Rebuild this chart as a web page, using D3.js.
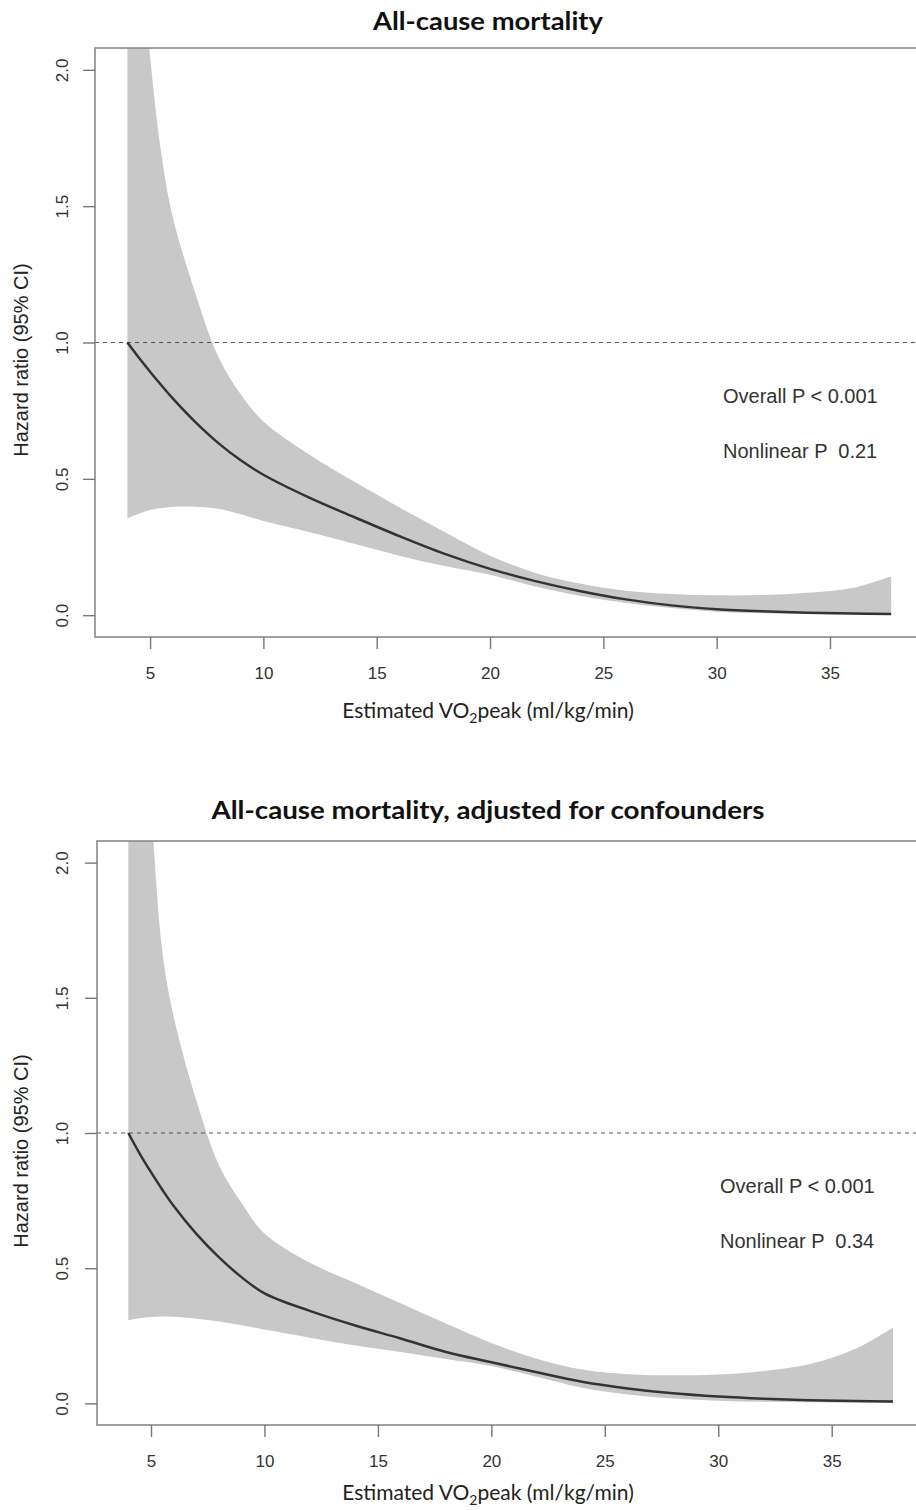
<!DOCTYPE html>
<html>
<head>
<meta charset="utf-8">
<script src="https://cdn.jsdelivr.net/npm/d3@7"></script>
<style>
  body { margin: 0; background: #fff; }
  text { font-family: "Liberation Sans", Arial, sans-serif; }
</style>
</head>
<body>
<script>
var vo2 = [4, 4.5, 5, 5.5, 6, 7, 8, 9, 10, 12, 14, 16, 18, 20, 22, 24, 26, 28, 30, 32, 34, 36, 37.7];

// top panel: crude hazard ratio with 95% CI
var hr1 = [1.0, 0.945, 0.893, 0.843, 0.795, 0.708, 0.632, 0.568, 0.515, 0.432, 0.36, 0.29, 0.225, 0.17, 0.125, 0.088, 0.058, 0.036, 0.022, 0.014, 0.009, 0.006, 0.004];
var lo1 = [0.355, 0.372, 0.386, 0.393, 0.397, 0.398, 0.39, 0.37, 0.345, 0.305, 0.262, 0.218, 0.18, 0.148, 0.105, 0.07, 0.045, 0.026, 0.013, 0.007, 0.004, 0.003, 0.002];
var hi1 = [3.2, 2.55, 2.05, 1.69, 1.46, 1.18, 0.95, 0.81, 0.71, 0.59, 0.49, 0.395, 0.305, 0.218, 0.155, 0.115, 0.09, 0.078, 0.073, 0.074, 0.082, 0.10, 0.143];

// bottom panel: adjusted for confounders
var hr2 = [1.0, 0.924, 0.855, 0.79, 0.73, 0.627, 0.54, 0.466, 0.407, 0.342, 0.288, 0.24, 0.19, 0.152, 0.115, 0.08, 0.055, 0.037, 0.025, 0.017, 0.012, 0.009, 0.007];
var lo2 = [0.308, 0.315, 0.319, 0.321, 0.32, 0.313, 0.303, 0.289, 0.273, 0.243, 0.214, 0.19, 0.164, 0.138, 0.098, 0.058, 0.033, 0.018, 0.01, 0.006, 0.004, 0.003, 0.002];
var hi2 = [3.5, 2.7, 2.2, 1.67, 1.43, 1.12, 0.88, 0.74, 0.628, 0.52, 0.445, 0.37, 0.295, 0.223, 0.165, 0.125, 0.108, 0.104, 0.107, 0.12, 0.145, 0.2, 0.28];

var xTicks = [5, 10, 15, 20, 25, 30, 35];
var yTicks = [0, 0.5, 1, 1.5, 2];
var titles = ["All-cause mortality", "All-cause mortality, adjusted for confounders"];
var overallP = ["Overall P < 0.001", "Overall P < 0.001"];
var nonlinP = ["Nonlinear P  0.21", "Nonlinear P  0.34"];

var W = 916, H = 1510;

var svg = d3.select("body").append("svg")
    .attr("width", W)
    .attr("height", H);

// layout of each panel (pixels)
var panels = [
  {hr: hr1, lo: lo1, hi: hi1, left: 95, right: 922, top: 48, bottom: 637, xdom: [2.57, 39.06],
   titleY: 30, titleW: 230, ylabY: 360, tickY: 679, xlabY: 718, annX: 723, annY: [403, 458]},
  {hr: hr2, lo: lo2, hi: hi2, left: 97, right: 922, top: 841, bottom: 1425, xdom: [2.62, 38.98],
   titleY: 819, titleW: 553, ylabY: 1151, tickY: 1467, xlabY: 1500, annX: 720, annY: [1193, 1248]}
];

panels.forEach(function(p, i) {
  var x = d3.scaleLinear().domain(p.xdom).range([p.left, p.right]);
  var y = d3.scaleLinear().domain([-0.08, 2.08]).range([p.bottom, p.top]);

  var g = svg.append("g");

  var clipId = "clip" + i;
  svg.append("clipPath").attr("id", clipId)
    .append("rect")
      .attr("x", p.left).attr("y", p.top)
      .attr("width", p.right - p.left).attr("height", p.bottom - p.top);

  var rows = vo2.map(function(v, k) { return {x: v, hr: p.hr[k], lo: p.lo[k], hi: p.hi[k]}; });

  // confidence band
  var area = d3.area()
      .curve(d3.curveCatmullRom.alpha(0.5))
      .x(function(d) { return x(d.x); })
      .y0(function(d) { return y(d.lo); })
      .y1(function(d) { return y(d.hi); });

  g.append("path")
      .datum(rows)
      .attr("clip-path", "url(#" + clipId + ")")
      .attr("d", area)
      .style("fill", "#c8c8c8");

  // reference line at HR = 1
  g.append("line")
      .attr("x1", p.left).attr("x2", p.right)
      .attr("y1", y(1)).attr("y2", y(1))
      .style("stroke", "#555")
      .style("stroke-width", 1.2)
      .style("stroke-dasharray", "4,4");

  // hazard ratio curve
  var line = d3.line()
      .curve(d3.curveCatmullRom.alpha(0.5))
      .x(function(d) { return x(d.x); })
      .y(function(d) { return y(d.hr); });

  g.append("path")
      .datum(rows)
      .attr("d", line)
      .style("fill", "none")
      .style("stroke", "#333")
      .style("stroke-width", 2.5);

  // box round the plot region
  g.append("rect")
      .attr("x", p.left).attr("y", p.top)
      .attr("width", p.right - p.left).attr("height", p.bottom - p.top)
      .style("fill", "none")
      .style("stroke", "#8a8a8a")
      .style("stroke-width", 1.6);

  // x axis
  var xAxis = g.append("g")
      .attr("transform", "translate(0," + p.bottom + ")")
      .call(d3.axisBottom(x).tickValues(xTicks).tickSize(12));
  xAxis.select(".domain").remove();
  xAxis.selectAll(".tick line").style("stroke", "#777").style("stroke-width", 1.4);
  xAxis.selectAll(".tick text")
      .attr("y", p.tickY - p.bottom).attr("dy", null)
      .style("font-family", "'Liberation Sans', Arial, sans-serif")
      .style("font-size", "17px")
      .style("fill", "#333");

  // y axis, labels written vertically like R's default
  var yAxis = g.append("g")
      .attr("transform", "translate(" + p.left + ",0)")
      .call(d3.axisLeft(y).tickValues(yTicks).tickSize(12).tickFormat(d3.format(".1f")));
  yAxis.select(".domain").remove();
  yAxis.selectAll(".tick line").style("stroke", "#777").style("stroke-width", 1.4);
  yAxis.selectAll(".tick text")
      .attr("x", null)
      .attr("text-anchor", "middle")
      .attr("transform", "translate(" + (62 - p.left) + ",0) rotate(-90)")
      .attr("dy", "0.35em")
      .style("font-family", "'Liberation Sans', Arial, sans-serif")
      .style("font-size", "17px")
      .style("fill", "#333");

  // titles and labels
  svg.append("text")
      .attr("x", 488).attr("y", p.titleY)
      .attr("text-anchor", "middle")
      .attr("textLength", p.titleW)
      .attr("lengthAdjust", "spacingAndGlyphs")
      .style("font-family", "Lato, 'Open Sans', sans-serif")
      .style("font-weight", "bold")
      .style("font-size", "25px")
      .style("fill", "#111")
      .text(titles[i]);

  var xl = svg.append("text")
      .attr("x", 488).attr("y", p.xlabY)
      .attr("text-anchor", "middle")
      .style("font-family", "Lato, 'Open Sans', sans-serif")
      .style("font-size", "21px")
      .style("fill", "#222");
  xl.append("tspan").text("Estimated VO");
  xl.append("tspan").attr("dy", 5).style("font-size", "14px").text("2");
  xl.append("tspan").attr("dy", -5).text("peak (ml/kg/min)");

  svg.append("text")
      .attr("transform", "translate(21," + p.ylabY + ") rotate(-90)")
      .attr("text-anchor", "middle")
      .attr("dy", "0.35em")
      .style("font-size", "20px")
      .style("fill", "#222")
      .text("Hazard ratio (95% CI)");

  svg.append("text")
      .attr("x", p.annX).attr("y", p.annY[0])
      .style("font-size", "20px")
      .style("fill", "#333")
      .style("white-space", "pre")
      .text(overallP[i]);

  svg.append("text")
      .attr("x", p.annX).attr("y", p.annY[1])
      .style("font-size", "20px")
      .style("fill", "#333")
      .style("white-space", "pre")
      .text(nonlinP[i]);
});
</script>
</body>
</html>
